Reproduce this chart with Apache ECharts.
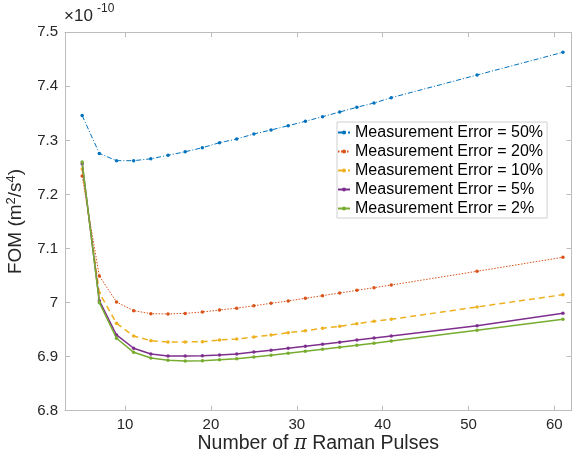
<!DOCTYPE html>
<html>
<head>
<meta charset="utf-8">
<script src="https://cdn.jsdelivr.net/npm/echarts@6/dist/echarts.min.js"></script>
<style>
html,body{margin:0;padding:0;background:#fff;}
#c{width:572px;height:458px;}
</style>
</head>
<body>
<div id="c"></div>
<script>
// Data (FOM in units of 1e-10 m^2/s^4)
const pulses = [5,7,9,11,13,15,17,19,21,23,25,27,29,31,33,35,37,39,41,51,61];
const err50 = [7.346,7.276,7.2625,7.2625,7.266,7.2725,7.279,7.2865,7.2958,7.3026,7.3119,7.3193,7.3272,7.3354,7.3439,7.3526,7.3613,7.3692,7.379,7.421,7.463];
const err20 = [7.234,7.049,7.001,6.985,6.9795,6.979,6.980,6.9826,6.9863,6.9897,6.994,6.9987,7.003,7.008,7.0128,7.0177,7.0227,7.0276,7.0325,7.0579,7.0838];
const err10 = [7.247,7.018,6.9617,6.9382,6.9295,6.9271,6.9271,6.9277,6.9308,6.9327,6.9364,6.94,6.9443,6.948,6.9524,6.9561,6.961,6.9654,6.9691,6.9919,7.0146];
const err5  = [7.257,7.0035,6.9401,6.9155,6.9049,6.9012,6.9012,6.9018,6.903,6.9049,6.9086,6.9117,6.9155,6.9191,6.9228,6.9265,6.9308,6.9345,6.9382,6.9573,6.9802];
const err2  = [7.26,6.9998,6.934,6.908,6.8975,6.8933,6.892,6.8926,6.8944,6.8963,6.8994,6.9025,6.9062,6.9099,6.9136,6.9173,6.921,6.9247,6.929,6.9488,6.9691];
const seriesNames = ['Measurement Error = 50%','Measurement Error = 20%','Measurement Error = 10%','Measurement Error = 5%','Measurement Error = 2%'];
const xTicks = [10,20,30,40,50,60];
const yTicks = [6.8,6.9,7.0,7.1,7.2,7.3,7.4,7.5];

const FONT = "'Liberation Sans', Arial, Helvetica, sans-serif";
const FRAME = '#bcbcbc';
const TXT = '#262626';

function pair(ys){ return pulses.map((x,i)=>[x, ys[i]]); }

const styles = [
  {color:'#0072BD', width:1, type:[5,2,1,2]},
  {color:'#D95319', width:1, type:[1.5,1.5]},
  {color:'#EDB120', width:1.5, type:[6,4]},
  {color:'#7E2F8E', width:1.5, type:'solid'},
  {color:'#77AC30', width:1.5, type:'solid'}
];
const datas = [err50, err20, err10, err5, err2];

const chart = echarts.init(document.getElementById('c'), null, {renderer:'canvas'});
chart.setOption({
  animation:false,
  backgroundColor:'#fff',
  textStyle:{fontFamily:FONT},
  grid:{left:65, right:0.5, top:32.3, bottom:47.3, containLabel:false, outerBoundsMode:'none'},
  legend:{
    orient:'vertical', left:337, top:122,
    padding:[1,4,0,0], itemGap:0, itemWidth:12, itemHeight:5,
    backgroundColor:'#fff', borderColor:'#d0d0d0', borderWidth:1, borderRadius:0,
    textStyle:{fontSize:16, color:'#000', fontFamily:FONT, lineHeight:19},
    data: seriesNames
  },
  xAxis:[{
    type:'value', min:3, max:62, position:'bottom',
    name:'Number of {i|π} Raman Pulses', nameLocation:'middle', nameGap:23, nameMoveOverlap:false,
    nameTextStyle:{fontSize:19.5, color:TXT, fontFamily:FONT, rich:{i:{fontStyle:'italic', fontSize:19.5, color:TXT, fontFamily:"'DejaVu Serif', serif"}}},
    axisLine:{show:true, onZero:false, lineStyle:{color:FRAME, width:1}},
    axisTick:{show:true, inside:true, length:5, customValues:xTicks, lineStyle:{color:FRAME}},
    axisLabel:{show:true, customValues:xTicks, fontSize:15, color:TXT, margin:7, fontFamily:FONT},
    splitLine:{show:false}
  },{
    type:'value', min:3, max:62, position:'top',
    axisLine:{show:true, onZero:false, lineStyle:{color:FRAME, width:1}},
    axisTick:{show:true, inside:true, length:5, customValues:xTicks, lineStyle:{color:FRAME}},
    axisLabel:{show:false}, splitLine:{show:false}
  }],
  yAxis:[{
    type:'value', min:6.8, max:7.5, position:'left',
    name:'FOM (m{s|2}/s{s|4})', nameLocation:'middle', nameGap:39, nameRotate:90,
    nameTextStyle:{fontSize:19, color:TXT, fontFamily:FONT,
      rich:{s:{fontSize:13, color:TXT, fontFamily:FONT, verticalAlign:'top', padding:[0,0,8,0]}}},
    axisLine:{show:true, onZero:false, lineStyle:{color:FRAME, width:1}},
    axisTick:{show:true, inside:true, length:5, customValues:yTicks, lineStyle:{color:FRAME}},
    axisLabel:{show:true, customValues:yTicks, fontSize:15, color:TXT, margin:7, fontFamily:FONT,
      formatter:function(v){ return String(parseFloat(Number(v).toFixed(2))); }},
    splitLine:{show:false}
  },{
    type:'value', min:6.8, max:7.5, position:'right',
    axisLine:{show:true, onZero:false, lineStyle:{color:FRAME, width:1}},
    axisTick:{show:true, inside:true, length:5, customValues:yTicks, lineStyle:{color:FRAME}},
    axisLabel:{show:false}, splitLine:{show:false}
  }],
  graphic:[
    {type:'text', left:64, top:8, style:{text:'×10', fontSize:17, fill:TXT, fontFamily:FONT}},
    {type:'text', left:97, top:3, style:{text:'-10', fontSize:12, fill:TXT, fontFamily:FONT}}
  ],
  series: datas.map((d,i)=>({
    name: seriesNames[i], type:'line', xAxisIndex:0, yAxisIndex:0,
    data: pair(d),
    symbol:'circle', symbolSize:3.5, showSymbol:true,
    itemStyle:{color:styles[i].color},
    lineStyle:{color:styles[i].color, width:styles[i].width, type:styles[i].type},
    z: 2 + i
  }))
});
</script>
</body>
</html>
